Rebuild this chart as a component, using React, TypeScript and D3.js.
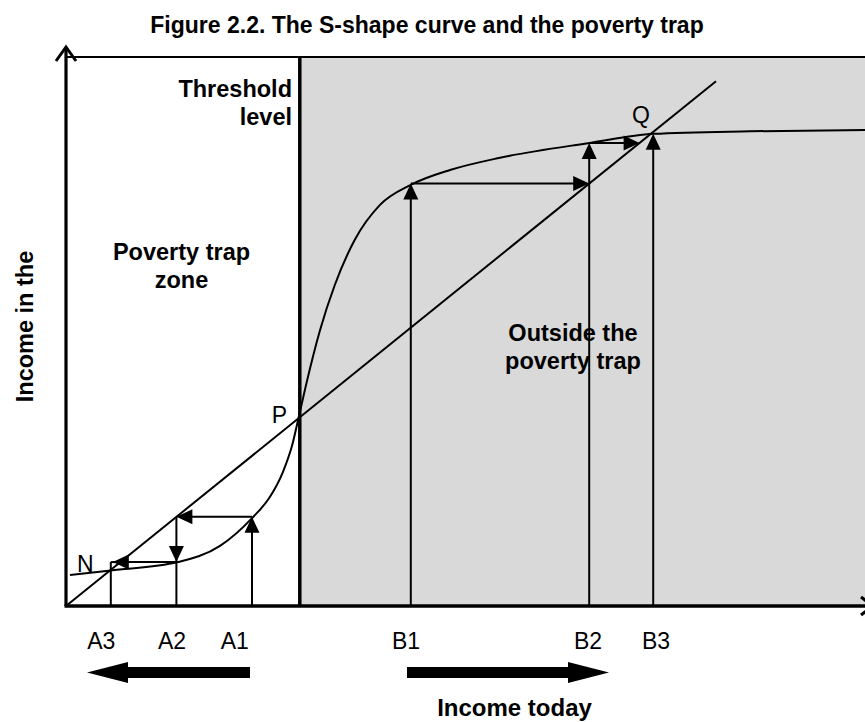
import React from 'react';
import * as d3 from 'd3';

// ---- data (income today → income in the future), in model units ----
const curveX = [0.5, 5.6, 14, 19.25, 23.25, 25.5, 27.1, 28.25, 29.1, 30, 31.75, 33.6, 36.1, 39.25, 43.1, 48, 54.25, 65.5, 73.4, 85.5, 100];
const curveY = [4.8, 5.5, 6.8, 9.3, 13.6, 16.9, 20.7, 24.8, 29.3, 34.2, 42.7, 49.7, 56.7, 62.1, 65.2, 67.5, 69.4, 71.7, 73.1, 73.5, 73.7];
const diagEnd = 81.25;
const threshold = 29.1;

const aNames = ['A1', 'A2', 'A3'];
const aPoints = [23.25, 13.8, 5.6];
const aCurve = [13.8, 6.8, 5.5];
const aLabelX = [21.1, 13.25, 4.4];

const bNames = ['B1', 'B2', 'B3'];
const bPoints = [43.1, 65.4, 73.4];
const bCurve = [65.4, 71.7, 73.1];
const bLabelX = [42.5, 65.25, 73.75];

const title = 'Figure 2.2. The S-shape curve and the poverty trap';
const yLabel = 'Income in the';
const xLabel = 'Income today';

const W = 865;
const H = 722;
const FONT = "'Liberation Sans', Arial, Helvetica, sans-serif";

const x = d3.scaleLinear().domain([0, 100]).range([66, 866]);
const y = d3.scaleLinear().domain([0, 85]).range([606, 57]);

function head(tx: number, ty: number, dx: number, dy: number, len = 16, wid = 15) {
  const bx = tx - dx * len;
  const by = ty - dy * len;
  const px = -dy * wid / 2;
  const py = dx * wid / 2;
  return `${tx},${ty} ${bx + px},${by + py} ${bx - px},${by - py}`;
}

function Arrow({ x1, y1, x2, y2, len = 16 }: { x1: number; y1: number; x2: number; y2: number; len?: number }) {
  const L = Math.hypot(x2 - x1, y2 - y1);
  const dx = (x2 - x1) / L;
  const dy = (y2 - y1) / L;
  return (
    <g>
      <line x1={x1} y1={y1} x2={x2 - dx * (len - 2)} y2={y2 - dy * (len - 2)} stroke="#000" strokeWidth={2} />
      <polygon points={head(x2, y2, dx, dy, len)} fill="#000" />
    </g>
  );
}

function BigArrow({ x1, x2, cy }: { x1: number; x2: number; cy: number }) {
  const dir = Math.sign(x2 - x1);
  const headLen = 41;
  const shaftH = 11;
  const headH = 21;
  const bx = x2 - dir * headLen;
  const pts = [
    [x1, cy - shaftH / 2],
    [bx, cy - shaftH / 2],
    [bx, cy - headH / 2],
    [x2, cy],
    [bx, cy + headH / 2],
    [bx, cy + shaftH / 2],
    [x1, cy + shaftH / 2],
  ];
  return <polygon points={pts.map(p => p.join(',')).join(' ')} fill="#000" />;
}

export default function App() {
  const curvePath = d3
    .line<number>()
    .x((_, i) => x(curveX[i]))
    .y(d => y(d))
    .curve(d3.curveMonotoneX)(curveY) as string;

  const x0 = x(0);
  const y0 = y(0);
  const top = y(85);
  const tx = x(threshold);

  return (
    <svg width={W} height={H} style={{ position: 'absolute', left: 0, top: 0 }} fontFamily={FONT}>
      <rect x={0} y={0} width={W} height={H} fill="#fff" />
      {/* shaded region beyond the threshold */}
      <rect x={tx} y={top} width={W - tx} height={y0 - top} fill="#d9d9d9" />
      {/* top frame */}
      <line x1={x0} y1={top} x2={W} y2={top} stroke="#000" strokeWidth={2.2} />
      {/* threshold line */}
      <line x1={tx + 1} y1={top} x2={tx + 1} y2={y0} stroke="#000" strokeWidth={3.5} />

      {/* S curve */}
      <path d={curvePath} fill="none" stroke="#000" strokeWidth={2} />
      {/* 45 degree line */}
      <line x1={x(0)} y1={y(0)} x2={x(diagEnd)} y2={y(diagEnd)} stroke="#000" strokeWidth={2} />

      {/* poverty trap cobweb */}
      <Arrow x1={x(aPoints[0])} y1={y0} x2={x(aPoints[0])} y2={y(aCurve[0])} />
      <Arrow x1={x(aPoints[0])} y1={y(aCurve[0])} x2={x(aPoints[1])} y2={y(aCurve[0])} />
      <line x1={x(aPoints[1])} y1={y0} x2={x(aPoints[1])} y2={y(aCurve[0])} stroke="#000" strokeWidth={2} />
      <polygon points={head(x(aPoints[1]), y(aCurve[1]), 0, 1)} fill="#000" />
      <Arrow x1={x(aPoints[1])} y1={y(aCurve[1])} x2={x(aPoints[2]) + 2} y2={y(aCurve[1])} />
      <line x1={x(aPoints[2])} y1={y0} x2={x(aPoints[2])} y2={y(aCurve[1])} stroke="#000" strokeWidth={2} />
      <line x1={x(aPoints[2])} y1={y(aCurve[1])} x2={x(aPoints[2]) + 6} y2={y(aCurve[1])} stroke="#000" strokeWidth={2} />

      {/* outside the trap cobweb */}
      <Arrow x1={x(bPoints[0])} y1={y0} x2={x(bPoints[0])} y2={y(bCurve[0])} />
      <Arrow x1={x(bPoints[0])} y1={y(bCurve[0])} x2={x(bPoints[1])} y2={y(bCurve[0])} />
      <Arrow x1={x(bPoints[1])} y1={y0} x2={x(bPoints[1])} y2={y(bCurve[1])} />
      <Arrow x1={x(bPoints[1])} y1={y(bCurve[1])} x2={x(bCurve[1])} y2={y(bCurve[1])} />
      <Arrow x1={x(bPoints[2])} y1={y0} x2={x(bPoints[2])} y2={y(bCurve[2])} />

      {/* axes */}
      <line x1={x0} y1={y0} x2={x0} y2={47} stroke="#000" strokeWidth={3.2} />
      <polyline points={`${x0 - 10},61 ${x0},47 ${x0 + 10},61`} fill="none" stroke="#000" strokeWidth={3} />
      <line x1={x0 - 1.5} y1={y0} x2={872} y2={y0} stroke="#000" strokeWidth={3.6} />
      <polyline points={`861,${y0 - 9} 873,${y0} 861,${y0 + 9}`} fill="none" stroke="#000" strokeWidth={3} />

      {/* title */}
      <text x={427} y={33} textAnchor="middle" fontSize={23} fontWeight="bold">{title}</text>

      {/* region labels */}
      <text x={292} y={97} textAnchor="end" fontSize={23.5} fontWeight="bold">Threshold</text>
      <text x={292} y={125} textAnchor="end" fontSize={23.5} fontWeight="bold">level</text>
      <text x={181.5} y={260} textAnchor="middle" fontSize={23.5} fontWeight="bold">Poverty trap</text>
      <text x={181.5} y={288} textAnchor="middle" fontSize={23.5} fontWeight="bold">zone</text>
      <text x={573} y={341} textAnchor="middle" fontSize={23.5} fontWeight="bold">Outside the</text>
      <text x={573} y={369} textAnchor="middle" fontSize={23.5} fontWeight="bold">poverty trap</text>

      {/* point labels */}
      <text x={287} y={423} textAnchor="end" fontSize={23}>P</text>
      <text x={77} y={572} fontSize={23}>N</text>
      <text x={632} y={123} fontSize={23}>Q</text>

      {/* x position labels */}
      {aNames.map((n, i) => (
        <text key={n} x={x(aLabelX[i])} y={649} textAnchor="middle" fontSize={23}>{n}</text>
      ))}
      {bNames.map((n, i) => (
        <text key={n} x={x(bLabelX[i])} y={649} textAnchor="middle" fontSize={23}>{n}</text>
      ))}

      {/* direction arrows */}
      <BigArrow x1={250} x2={87} cy={672.5} />
      <BigArrow x1={407} x2={609} cy={672.5} />

      {/* axis titles */}
      <text x={514.5} y={716} textAnchor="middle" fontSize={24} fontWeight="bold">{xLabel}</text>
      <text transform="translate(33,326.5) rotate(-90)" textAnchor="middle" fontSize={23.5} fontWeight="bold">{yLabel}</text>
    </svg>
  );
}
